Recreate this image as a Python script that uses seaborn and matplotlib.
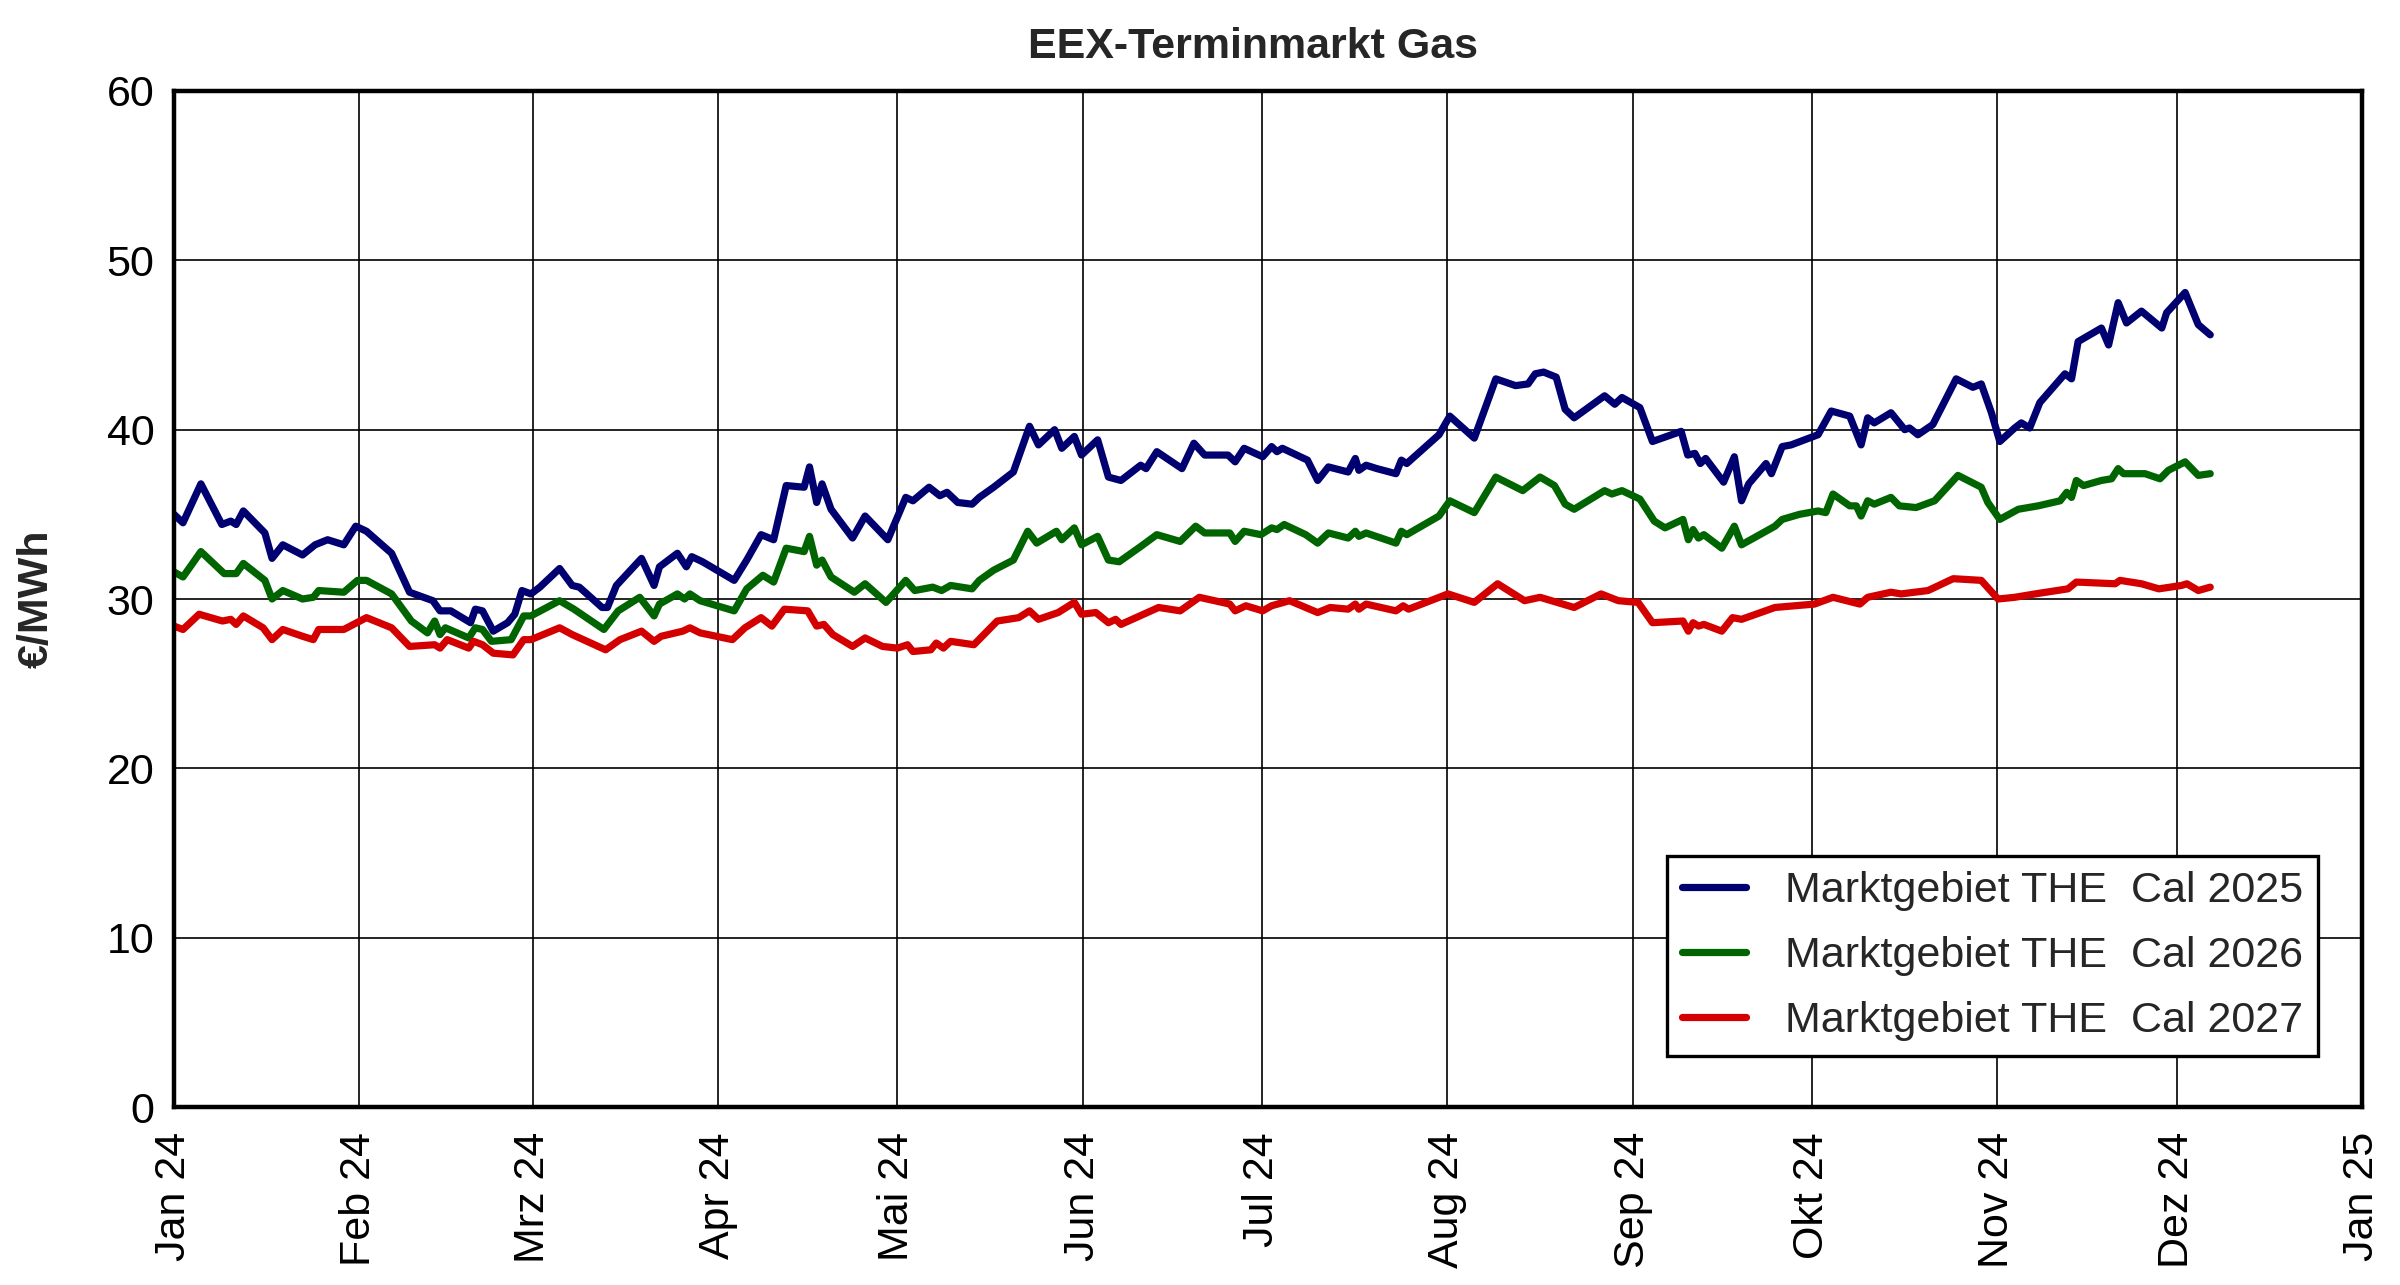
import pandas as pd
import seaborn as sns
import matplotlib as mpl
import matplotlib.pyplot as plt

# styling
sns.set_style("white")
mpl.rcParams["font.family"] = ["Liberation Sans", "DejaVu Sans"]

# data: days after 2024-01-01 and price in EUR/MWh
START = "2024-01-01"

cal25_days = [0, 1.5, 4.5, 8, 9.5, 10.4, 11.6, 15.2, 16.4, 18.2,
              21.5, 23.6, 25.7, 28.4, 30.4, 32.2, 36.4, 39.4, 43.3, 44.5,
              46.3, 49.6, 50.4, 51.6, 53.4, 55.8, 57, 58.2, 59.7, 61.2,
              64.5, 66.6, 67.8, 71.6, 72.5, 74, 78.2, 80.3, 81.2, 84.2,
              85.7, 86.6, 88.4, 93.7, 95.8, 98.2, 100.3, 102.4, 105.4, 106.3,
              107.5, 108.4, 109.9, 113.5, 115.6, 119.4, 122.4, 123.6, 126.3, 128.1,
              129.3, 131.1, 133.5, 134.7, 137.1, 140.4, 143.1, 144.6, 147.3, 148.5,
              150.6, 151.8, 154.5, 156.3, 158.4, 161.7, 162.6, 164.4, 168.6, 170.6,
              172.4, 176.3, 177.5, 179, 182.1, 183.6, 184.5, 185.4, 189.6, 191.3,
              193.1, 196.4, 197.6, 198.2, 199.4, 201.2, 204.4, 205.3, 206.2, 211.6,
              213.4, 217.5, 221.1, 224.4, 226.5, 227.7, 229.1, 231.2, 232.7, 234.2,
              239.3, 241.0, 242.2, 245.2, 247.3, 252.1, 253.2, 254.4, 255.3, 256.2,
              259.2, 261, 262.2, 263.4, 266.3, 267.2, 269, 270.5, 275, 277.2,
              280.3, 282.2, 283.3, 284.4, 287.2, 289.5, 290.3, 291.7, 294.2, 298.1,
              300.9, 302.3, 304, 305.4, 307.9, 309, 310.4, 312.1, 316.3, 317.4,
              318.5, 322.4, 323.6, 325.2, 326.6, 329.1, 332.5, 333.3, 336.4, 338.6,
              340.6]
cal25_vals = [35.0, 34.5, 36.8, 34.4, 34.6, 34.4, 35.2, 33.9, 32.4, 33.2,
              32.6, 33.2, 33.5, 33.2, 34.3, 34.0, 32.7, 30.4, 29.9, 29.3,
              29.3, 28.6, 29.4, 29.3, 28.1, 28.6, 29.1, 30.5, 30.3, 30.7,
              31.8, 30.8, 30.7, 29.5, 29.5, 30.8, 32.4, 30.8, 31.9, 32.7,
              31.9, 32.5, 32.2, 31.1, 32.3, 33.8, 33.5, 36.7, 36.6, 37.8,
              35.7, 36.8, 35.3, 33.6, 34.9, 33.5, 36.0, 35.8, 36.6, 36.1,
              36.3, 35.7, 35.6, 36.0, 36.6, 37.5, 40.2, 39.1, 40.0, 38.9,
              39.6, 38.5, 39.4, 37.2, 37.0, 37.9, 37.7, 38.7, 37.7, 39.2,
              38.5, 38.5, 38.1, 38.9, 38.4, 39.0, 38.7, 38.9, 38.2, 37.0,
              37.8, 37.5, 38.3, 37.6, 37.9, 37.7, 37.4, 38.2, 38.0, 39.7,
              40.8, 39.5, 43.0, 42.6, 42.7, 43.3, 43.4, 43.1, 41.2, 40.7,
              42.0, 41.5, 41.9, 41.3, 39.3, 39.9, 38.5, 38.6, 38.0, 38.3,
              36.9, 38.4, 35.8, 36.8, 38.0, 37.4, 39.0, 39.1, 39.7, 41.1,
              40.8, 39.1, 40.7, 40.4, 41.0, 40.0, 40.1, 39.7, 40.3, 43.0,
              42.5, 42.7, 41.0, 39.3, 40.1, 40.4, 40.1, 41.6, 43.3, 43.0,
              45.2, 46.0, 45.0, 47.5, 46.3, 47.0, 46.0, 46.9, 48.1, 46.2,
              45.6]

cal26_days = [0, 1.5, 4.5, 8.4, 10.4, 11.6, 15.2, 16.4, 18.2, 21.5,
              23.3, 24.2, 28.4, 30.7, 32.2, 36.4, 39.7, 42.4, 43.6, 44.5,
              45.4, 49.3, 50.4, 51.6, 53.1, 56.4, 58.5, 59.7, 64.5, 66.9,
              71.9, 74.3, 77.9, 80.3, 81.2, 84.2, 85.4, 86.3, 88, 93.7,
              95.8, 98.5, 100.3, 102.4, 105.4, 106.3, 107.5, 108.4, 109.9, 113.8,
              115.6, 119.1, 122.4, 123.9, 126.9, 128.4, 129.9, 133.5, 134.7, 137.1,
              140.4, 142.8, 144.3, 147.6, 148.5, 150.6, 151.8, 154.5, 156.3, 158.1,
              161.7, 164.4, 168.3, 170.9, 172.4, 176.6, 177.5, 179, 181.8, 183.6,
              184.5, 185.7, 189.3, 191.3, 193.1, 196.4, 197.6, 198.2, 199.4, 204.4,
              205.3, 206.2, 211.6, 213.4, 217.5, 221.1, 225.6, 228.5, 230.9, 232.7,
              234.2, 239.3, 240.5, 242.2, 245.2, 247.6, 249.4, 252.4, 253.3, 254.1,
              255.0, 255.9, 258.9, 261, 262.2, 267.8, 269, 271.9, 275, 276.3,
              277.5, 280.3, 281.4, 282.2, 283.3, 284.4, 287.2, 288.6, 291.4, 294.5,
              298.4, 302.3, 303.4, 305.4, 308.5, 310.1, 311.8, 315.5, 316.6, 317.4,
              318.2, 319.4, 322.4, 324.1, 325.2, 326.1, 329.7, 332.2, 333.6, 336.4,
              338.6, 340.6]
cal26_vals = [31.6, 31.3, 32.8, 31.5, 31.5, 32.1, 31.1, 30.0, 30.5, 30.0,
              30.1, 30.5, 30.4, 31.1, 31.1, 30.3, 28.7, 28.0, 28.7, 27.9,
              28.3, 27.7, 28.3, 28.2, 27.5, 27.6, 29.0, 29.0, 29.9, 29.4,
              28.2, 29.3, 30.1, 29.0, 29.7, 30.3, 30.0, 30.3, 29.9, 29.3,
              30.6, 31.4, 31.0, 33.0, 32.8, 33.7, 32.0, 32.3, 31.3, 30.4,
              30.9, 29.8, 31.1, 30.5, 30.7, 30.5, 30.8, 30.6, 31.1, 31.7,
              32.3, 34.0, 33.3, 34.0, 33.5, 34.2, 33.2, 33.7, 32.3, 32.2,
              33.1, 33.8, 33.4, 34.3, 33.9, 33.9, 33.4, 34.0, 33.8, 34.2,
              34.1, 34.4, 33.8, 33.3, 33.9, 33.6, 34.0, 33.7, 33.9, 33.3,
              34.0, 33.8, 34.9, 35.8, 35.1, 37.2, 36.4, 37.2, 36.7, 35.6,
              35.3, 36.4, 36.2, 36.4, 35.9, 34.6, 34.2, 34.7, 33.5, 34.1,
              33.6, 33.8, 33.0, 34.3, 33.2, 34.3, 34.7, 35.0, 35.2, 35.1,
              36.2, 35.5, 35.5, 34.9, 35.8, 35.6, 36.0, 35.5, 35.4, 35.8,
              37.3, 36.6, 35.7, 34.7, 35.3, 35.4, 35.5, 35.8, 36.3, 36.0,
              37.0, 36.7, 37.0, 37.1, 37.7, 37.4, 37.4, 37.1, 37.6, 38.1,
              37.3, 37.4]

cal27_days = [0, 1.5, 4.2, 8.1, 9.5, 10.4, 11.6, 14.9, 16.4, 18.2,
              21.5, 23.3, 24.2, 28.4, 32.2, 36.4, 39.4, 43.6, 44.5, 45.7,
              49.3, 50.1, 51.6, 53.4, 56.7, 58.5, 59.7, 64.5, 66.6, 72.2,
              74.6, 78.2, 80.3, 81.5, 85.1, 86.3, 88, 93.4, 95.5, 98.2,
              100, 102.1, 106, 107.5, 108.7, 110.2, 113.5, 115.6, 118.5, 121,
              122.7, 123.6, 126.6, 127.5, 128.7, 129.9, 133.8, 137.7, 141.3, 143.1,
              144.6, 147.9, 150.6, 151.8, 154.2, 156.3, 157.5, 158.4, 164.7, 168.3,
              171.5, 176.6, 177.5, 179.3, 182.1, 183.6, 186.6, 191.3, 193.4, 196.4,
              197.6, 198.2, 199.4, 204.4, 205.6, 206.5, 213.1, 217.5, 221.4, 225.9,
              228.5, 234.2, 238.7, 241.6, 244.9, 247.3, 252.4, 253.3, 254.1, 255.0,
              255.9, 258.9, 260.7, 262.2, 267.8, 274.4, 277.5, 282, 283.3, 287.2,
              288.9, 293.4, 297.6, 302.3, 305.1, 307.9, 311.3, 316.8, 318.2, 324.7,
              325.5, 329.1, 332, 335.8, 336.7, 338.6, 340.6]
cal27_vals = [28.4, 28.2, 29.1, 28.7, 28.8, 28.5, 29.0, 28.3, 27.6, 28.2,
              27.8, 27.6, 28.2, 28.2, 28.9, 28.3, 27.2, 27.3, 27.1, 27.6,
              27.1, 27.5, 27.3, 26.8, 26.7, 27.6, 27.6, 28.3, 27.9, 27.0,
              27.6, 28.1, 27.5, 27.8, 28.1, 28.3, 28.0, 27.6, 28.3, 28.9,
              28.4, 29.4, 29.3, 28.4, 28.5, 27.9, 27.2, 27.7, 27.2, 27.1,
              27.3, 26.9, 27.0, 27.4, 27.1, 27.5, 27.3, 28.7, 28.9, 29.3,
              28.8, 29.2, 29.8, 29.1, 29.2, 28.6, 28.8, 28.5, 29.5, 29.3,
              30.1, 29.7, 29.3, 29.6, 29.3, 29.6, 29.9, 29.2, 29.5, 29.4,
              29.7, 29.4, 29.7, 29.3, 29.6, 29.4, 30.3, 29.8, 30.9, 29.9,
              30.1, 29.5, 30.3, 29.9, 29.8, 28.6, 28.7, 28.1, 28.6, 28.4,
              28.5, 28.1, 28.9, 28.8, 29.5, 29.7, 30.1, 29.7, 30.1, 30.4,
              30.3, 30.5, 31.2, 31.1, 30.0, 30.1, 30.3, 30.6, 31.0, 30.9,
              31.1, 30.9, 30.6, 30.8, 30.9, 30.5, 30.7]

series_names = ["Marktgebiet THE  Cal 2025",
                "Marktgebiet THE  Cal 2026",
                "Marktgebiet THE  Cal 2027"]
colors = ["#000070", "#006400", "#d40000"]

month_labels = ["Jan 24", "Feb 24", "Mrz 24", "Apr 24", "Mai 24", "Jun 24",
                "Jul 24", "Aug 24", "Sep 24", "Okt 24", "Nov 24", "Dez 24",
                "Jan 25"]

# build long table
frames = []
for name, days, vals in zip(series_names,
                            [cal25_days, cal26_days, cal27_days],
                            [cal25_vals, cal26_vals, cal27_vals]):
    frames.append(pd.DataFrame({
        "date": pd.Timestamp(START) + pd.to_timedelta(days, unit="D"),
        "price": vals,
        "product": name,
    }))
df = pd.concat(frames, ignore_index=True)

#%% Plotting
fig = plt.figure(figsize=(12, 6.425), dpi=200)
ax = fig.add_axes([0.0725, 0.1385, 0.9117, 0.7907])

sns.lineplot(data=df, x="date", y="price", hue="product", hue_order=series_names,
             palette=colors, linewidth=2.6, estimator=None, ax=ax)

month_ticks = pd.date_range(START, periods=len(month_labels), freq="MS")
ax.set_xlim(month_ticks[0], month_ticks[-1])
ax.set_xticks(month_ticks)
ax.set_xticklabels(month_labels, rotation=90)
ax.set_ylim(0, 60)
ax.set_yticks(range(0, 61, 10))

ax.grid(True, color="black", linewidth=0.6)
for side in ax.spines.values():
    side.set_color("black")
    side.set_linewidth(1.6)
ax.tick_params(axis="both", direction="out", length=4, width=0.8,
               color="black", labelsize=15.5, colors="black")
ax.tick_params(axis="x", pad=5)
ax.tick_params(axis="y", pad=3)

ax.set_xlabel("")
ax.set_ylabel("€/MWh", fontsize=15.5, fontweight="bold", labelpad=18)
ax.set_title("EEX-Terminmarkt Gas", fontsize=15.5, fontweight="bold", pad=12, x=0.493)

handles, labels = ax.get_legend_handles_labels()
leg = ax.legend(handles=handles, labels=labels, loc="lower right",
                bbox_to_anchor=(0.980, 0.050), borderaxespad=0,
                frameon=True, fancybox=False, framealpha=1, edgecolor="black",
                fontsize=15.5, handlelength=1.5, handletextpad=0.9,
                labelspacing=0.58, borderpad=0.35)
leg.get_frame().set_linewidth(1.2)

fig.savefig("out.png", dpi=200)
